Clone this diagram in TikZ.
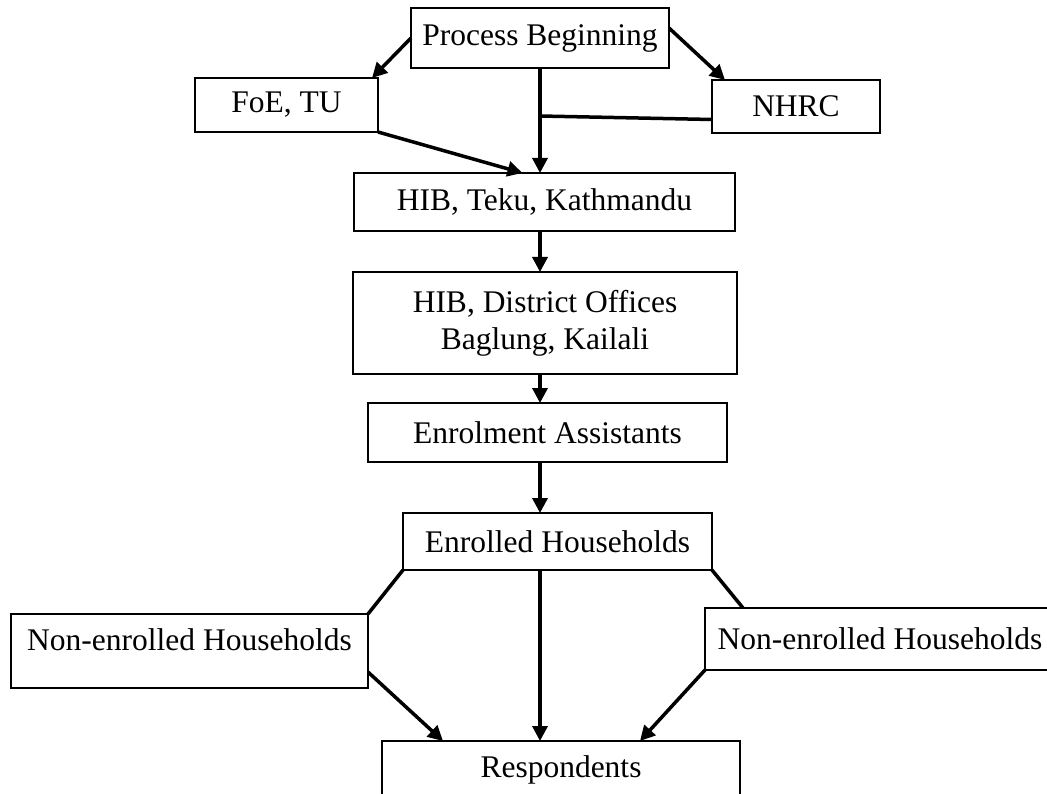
\documentclass[tikz,border=0pt]{standalone}
\usepackage{fontspec}
\setmainfont{Liberation Serif}
\usetikzlibrary{arrows.meta}
\begin{document}
\begin{tikzpicture}[
  x=1pt, y=-1pt,
  >={Triangle[length=15pt,width=15pt]},
  font=\fontsize{31.5}{37}\selectfont,
  box/.style={draw, line width=1.5pt, inner sep=0pt, outer sep=0pt,
              align=center},
  arr/.style={->, line width=3.5pt},
  lnk/.style={line width=3.5pt}
]
\useasboundingbox (0,0) rectangle (1047,794);

%% Top level
\node[box, minimum width=258pt, minimum height=60pt]  (begin) at (540,38)    {Process Beginning};
\node[box, minimum width=183pt, minimum height=54pt]  (foe)   at (286.5,105) {FoE, TU};
\node[box, minimum width=168pt, minimum height=53pt]  (nhrc)  at (796,106.5) {NHRC};

%% Main chain
\node[box, minimum width=381pt, minimum height=58pt]  (teku)     at (544.5,202)   {HIB, Teku, Kathmandu};
\node[box, minimum width=384pt, minimum height=102pt] (district) at (545,323)     {HIB, District Offices\\Baglung, Kailali};
\node[box, minimum width=359pt, minimum height=59pt]  (assist)   at (547.5,432.5) {Enrolment Assistants};
\node[box, minimum width=309pt, minimum height=57pt]  (enrolled) at (557.5,541.5) {Enrolled Households};

%% Bottom level
\node[box, minimum width=357pt, minimum height=74pt, text depth=22pt] (neL) at (189.5,651) {Non-enrolled Households};
\node[box, minimum width=350pt, minimum height=62pt]  (neR)  at (880,639)   {Non-enrolled Households};
\node[box, minimum width=358pt, minimum height=58pt]  (resp) at (561,770)   {Respondents};

%% Process Beginning -> FoE, NHRC, Teku
\draw[arr] (begin.west) -- ([xshift=-6pt]foe.north east);
\draw[arr] ([yshift=10pt]begin.east) -- ([xshift=13pt]nhrc.north west);
\draw[arr] (begin.south) -- (teku.north -| begin.south);

%% NHRC joins the spine
\coordinate (join) at (begin.south |- 0,116);
\draw[lnk] ([yshift=-13pt]nhrc.west) -- (join);

%% FoE -> Teku
\draw[arr] (foe.south east) -- ([xshift=-22pt]teku.north);

%% Spine
\draw[arr] (teku.south -| begin.south)     -- (district.north -| begin.south);
\draw[arr] (district.south -| begin.south) -- (assist.north -| begin.south);
\draw[arr] (assist.south -| begin.south)   -- (enrolled.north -| begin.south);
\draw[arr] (enrolled.south -| begin.south) -- (resp.north -| begin.south);

%% Enrolled -> Non-enrolled -> Respondents
\draw[lnk] (enrolled.south west) -- (neL.north east);
\draw[lnk] (enrolled.south east) -- ([xshift=38pt]neR.north west);
\draw[arr] ([yshift=-21pt]neL.east) -- ([xshift=-118pt]resp.north);
\draw[arr] (neR.south west) -- ([xshift=79pt]resp.north);

\end{tikzpicture}
\end{document}
